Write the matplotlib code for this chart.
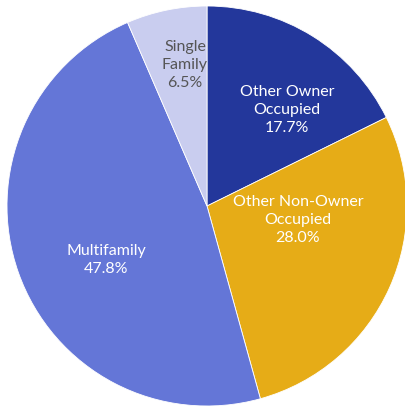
import matplotlib
matplotlib.use("Agg")
from matplotlib import pyplot as plt

# data
categories = ["Other Owner\nOccupied", "Other Non-Owner\nOccupied", "Multifamily", "Single\nFamily"]
shares = [17.7, 28.0, 47.8, 6.5]
colors = ["#23379b", "#e6ac17", "#6476d7", "#c9cdef"]
text_colors = ["white", "white", "white", "#555555"]

# label spots (data coords, pie radius = 1)
label_pos = [(0.40, 0.485), (0.455, -0.065), (-0.505, -0.265), (-0.11, 0.71)]

plt.rcParams['font.family'] = ['Lato', 'DejaVu Sans']

fig = plt.figure(figsize=(4.06, 4.10), dpi=100)
ax = fig.add_axes([7 / 406, 3 / 410, 400 / 406, 400 / 410])

wedges, _ = ax.pie(shares, colors=colors, startangle=90, counterclock=False,
                   radius=1, wedgeprops=dict(edgecolor="white", linewidth=0.6))

for name, val, pos, tc in zip(categories, shares, label_pos, text_colors):
    ax.text(pos[0], pos[1], f"{name}\n{val:.1f}%", ha="center", va="center",
            fontsize=11.5, color=tc, linespacing=1.35)

ax.set_xlim(-1, 1)
ax.set_ylim(-1, 1)
ax.set_aspect("equal")
ax.axis("off")

fig.savefig("out.png", dpi=100)
